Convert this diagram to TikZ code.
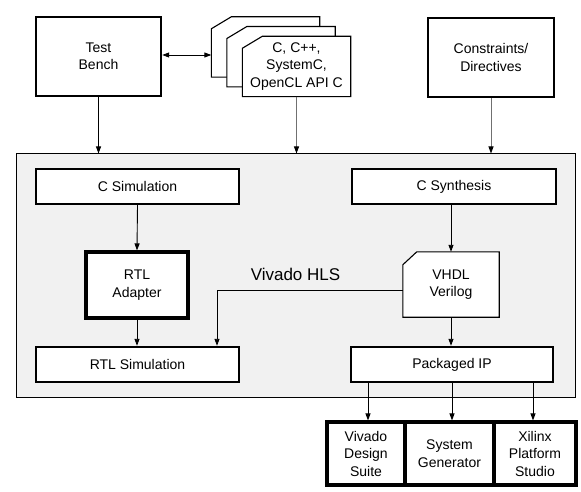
\documentclass[tikz,border=0pt]{standalone}
\usepackage{fontspec}
\setmainfont{Liberation Sans}
\usetikzlibrary{arrows.meta,calc}
\definecolor{bgfill}{HTML}{F1F1F1}
\definecolor{lgray}{HTML}{707070}
\begin{document}
\begin{tikzpicture}[x=1pt,y=-1pt,
  every node/.style={font=\fontsize{14}{17.5}\selectfont, align=center, inner sep=0pt},
  thickbox/.style={draw, line width=2.4pt, fill=white},
  heavybox/.style={draw, line width=3.1pt, fill=white},
  arr/.style={-{Triangle[length=7pt,width=5pt,color=black]}, line width=0.9pt},
  garr/.style={arr, draw=lgray},
  sheet/.style={minimum width=108pt, minimum height=60pt},
  sheetline/.style={draw, line width=1.1pt, fill=white}
]
\useasboundingbox (0,0) rectangle (581,492);
% outer Vivado HLS box
\node[draw, line width=1pt, fill=bgfill, minimum width=559pt, minimum height=243pt] (outer) at (295.5,275.5) {};
% top boxes
\node[thickbox, minimum width=125pt, minimum height=79pt] (tb) at (98.5,56.5) {Test\\Bench};
\node[thickbox, minimum width=126pt, minimum height=79pt] (con) at (491,57.5) {Constraints/\\Directives};
% stacked source files
\node[sheet] (back) at (265.5,47) {};
\node[sheet] (mid) at (281,56.75) {};
\node[sheet] (front) at (296.5,66.5) {};
\foreach \s in {back,mid,front}{
  \draw[sheetline] ($(\s.north west)+(0,12)$) -- ($(\s.north west)+(20,0)$) -- (\s.north east) -- (\s.south east) -- (\s.south west) -- cycle;
}
\node at (front.center) {C, C++,\\SystemC,\\OpenCL API C};
% inner boxes
\node[thickbox, minimum width=203pt, minimum height=35pt] (csim) at (137.5,186.5) {C Simulation};
\node[heavybox, minimum width=102pt, minimum height=66pt] (adapt) at (137,285) {RTL\\Adapter};
\node[thickbox, minimum width=203pt, minimum height=35pt] (rtlsim) at (137.5,364.5) {RTL Simulation};
\node[thickbox, minimum width=204pt, minimum height=35pt] (csyn) at (454,186.5) {C Synthesis};
\node[minimum width=96pt, minimum height=65pt] (vhdl) at (451,284.5) {};
\draw[sheetline] ($(vhdl.north west)+(0,13)$) -- ($(vhdl.north west)+(14,0)$) -- (vhdl.north east) -- (vhdl.south east) -- (vhdl.south west) -- cycle;
\node at (vhdl.center) {VHDL\\Verilog};
\node[thickbox, minimum width=202pt, minimum height=35pt] (pkg) at (452,364.5) {Packaged IP};
\node[font=\fontsize{17}{20}\selectfont] (hls) at (295.5,274) {Vivado HLS};
% bottom tools
\node[heavybox, minimum width=78pt, minimum height=63pt] (vds) at (366,453.5) {Vivado\\Design\\Suite};
\node[heavybox, minimum width=89pt, minimum height=63pt] (sg) at (449.5,453.5) {System\\Generator};
\node[heavybox, minimum width=82pt, minimum height=63pt] (xps) at (535,453.5) {Xilinx\\Platform\\Studio};
% connectors
\draw[{Triangle[length=7pt,width=5pt]}-{Triangle[length=7pt,width=5pt]}, line width=0.9pt] (tb.east |- 0,55) -- (back.west |- 0,55);
\draw[arr] (tb.south) -- (tb.south |- outer.north);
\draw[garr] (front.south) -- (front.south |- outer.north);
\draw[garr] (con.south) -- (con.south |- outer.north);
\draw[arr] (csim.south) -- (adapt.north);
\draw[arr] (adapt.south) -- (adapt.south |- rtlsim.north);
\draw[arr] (csyn.south -| vhdl.north) -- (vhdl.north);
\draw[arr] (vhdl.south) -- (vhdl.south |- pkg.north);
\draw[arr] (vhdl.west |- 0,290) -| ([xshift=79.5pt]rtlsim.north);
\draw[arr] ([xshift=2pt]vds.north |- pkg.south) -- ([xshift=2pt]vds.north);
\draw[arr] ([xshift=2.5pt]sg.north |- pkg.south) -- ([xshift=2.5pt]sg.north);
\draw[arr] ([xshift=-2pt]xps.north |- pkg.south) -- ([xshift=-2pt]xps.north);
\end{tikzpicture}
\end{document}
